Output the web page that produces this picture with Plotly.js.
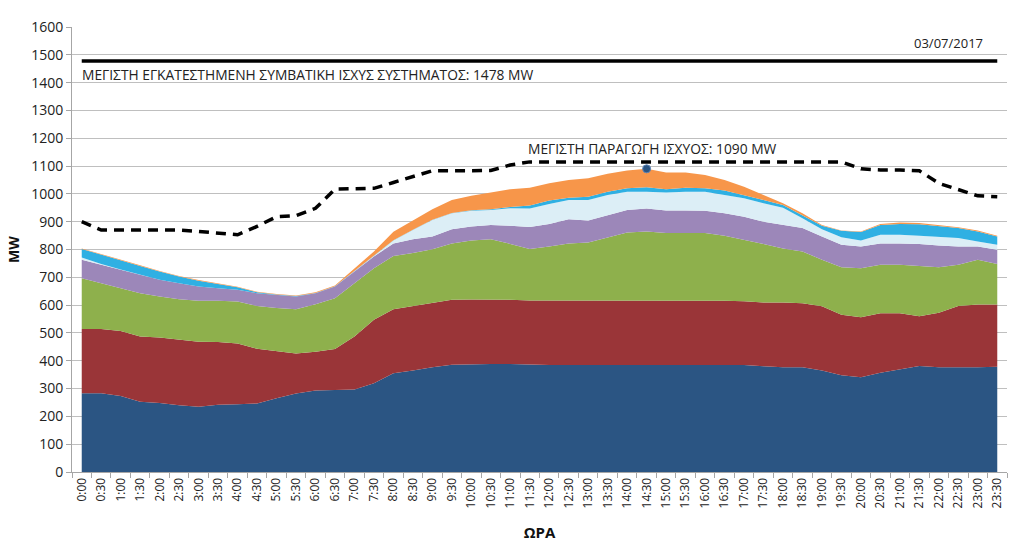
<!DOCTYPE html>
<html>
<head>
<meta charset="utf-8">
<script src="https://cdn.plot.ly/plotly-3.0.1.min.js"></script>
<style>html,body{margin:0;padding:0;background:#fff}#chart{width:1024px;height:550px}</style>
</head>
<body>
<div id="chart"></div>
<script>
const times = ["0:00","0:30","1:00","1:30","2:00","2:30","3:00","3:30","4:00","4:30","5:00","5:30","6:00","6:30","7:00","7:30","8:00","8:30","9:00","9:30","10:00","10:30","11:00","11:30","12:00","12:30","13:00","13:30","14:00","14:30","15:00","15:30","16:00","16:30","17:00","17:30","18:00","18:30","19:00","19:30","20:00","20:30","21:00","21:30","22:00","22:30","23:00","23:30"];

const seriesBlue   = [283,283,273,253,248,240,235,242,244,246,265,282,293,295,297,319,355,365,377,386,388,388,388,386,385,385,385,385,386,387,387,386,386,386,385,380,377,377,365,348,341,357,369,381,377,376,377,378];
const seriesRed    = [231,231,234,234,236,236,233,225,218,197,169,144,139,147,190,228,230,232,232,233,232,232,231,231,232,232,232,232,231,230,230,231,231,230,229,229,232,230,231,217,215,214,202,179,196,221,225,224];
const seriesGreen  = [183,165,154,156,147,145,148,149,151,154,156,159,171,183,192,186,192,190,192,203,212,217,201,185,194,205,208,227,244,248,242,242,242,233,221,211,195,186,167,171,177,174,174,181,163,148,161,146];
const seriesPurple = [66,66,66,66,60,58,51,45,42,46,46,46,40,42,42,42,45,50,46,51,51,51,65,79,81,87,79,80,81,82,81,81,80,81,83,80,84,84,84,81,78,77,77,79,78,66,48,51];
const seriesLight  = [8,3,1,0,0,0,0,0,0,0,0,0,0,0,1,3,10,33,59,57,56,54,63,66,72,69,74,72,66,61,65,68,69,66,66,66,62,35,26,27,21,31,31,29,30,30,18,18];
const seriesCyan   = [31,33,32,32,30,24,21,15,9,3,2,2,1,1,1,1,1,1,1,1,2,3,5,11,12,8,12,12,12,16,12,14,12,16,12,12,10,12,12,23,31,35,39,42,41,36,36,30];
const seriesOrange = [2,2,2,2,2,2,2,2,2,2,2,2,2,3,8,14,31,35,38,47,52,60,64,64,62,64,66,64,64,66,60,55,48,38,30,18,6,6,3,1,2,4,5,4,3,3,3,2];

const availableCapacity = [900,870,870,870,870,870,865,859,853,883,918,922,948,1017,1017,1020,1041,1062,1083,1083,1083,1084,1104,1115,1115,1115,1115,1115,1115,1115,1115,1115,1115,1115,1115,1115,1115,1115,1115,1115,1090,1086,1086,1083,1038,1014,993,990];

const installedCapacity = 1478;
const peakTime = "14:30";
const peakValue = 1090;
const dateLabel = "03/07/2017";
const installedLabel = "ΜΕΓΙΣΤΗ ΕΓΚΑΤΕΣΤΗΜΕΝΗ ΣΥΜΒΑΤΙΚΗ ΙΣΧΥΣ ΣΥΣΤΗΜΑΤΟΣ: 1478 MW";
const peakLabel = "ΜΕΓΙΣΤΗ ΠΑΡΑΓΩΓΗ ΙΣΧΥΟΣ: 1090 MW";

const stacks = [
  {y: seriesBlue,   color: "#2B5583"},
  {y: seriesRed,    color: "#9A3538"},
  {y: seriesGreen,  color: "#8EB04C"},
  {y: seriesPurple, color: "#9C87B9"},
  {y: seriesLight,  color: "#DCEEF6"},
  {y: seriesCyan,   color: "#2FB0E3"},
  {y: seriesOrange, color: "#F7964A"}
];

const traces = stacks.map(s => ({
  type: "scatter", mode: "lines", x: times, y: s.y,
  stackgroup: "gen", line: {width: 0, color: s.color},
  fillcolor: s.color, hoverinfo: "x+y"
}));

traces.push({
  type: "scatter", mode: "lines", x: times, y: availableCapacity,
  line: {color: "#000", width: 3.5, dash: "10px,7px"}
});
traces.push({
  type: "scatter", mode: "lines", x: times, y: times.map(() => installedCapacity),
  line: {color: "#000", width: 3.5}
});
traces.push({
  type: "scatter", mode: "markers", x: [peakTime], y: [peakValue],
  marker: {size: 8, color: "#2B5583", line: {color: "#5E84B6", width: 1}}
});

const fontFam = "'Open Sans', 'Noto Sans', sans-serif";

const layout = {
  width: 1024, height: 550,
  margin: {l: 72, r: 17, t: 27, b: 78},
  paper_bgcolor: "#fff", plot_bgcolor: "#fff",
  showlegend: false,
  font: {family: fontFam, color: "#222", size: 13},
  xaxis: {
    type: "category", range: [-0.5, 47.5],
    tickangle: -90, tickfont: {size: 12, color: "#222"},
    ticks: "outside", ticklen: 5, tickcolor: "#A6A6A6", tickson: "boundaries",
    showgrid: false, showline: true, linecolor: "#A6A6A6", linewidth: 1,
    zeroline: false,
    title: {text: "<b>ΩΡΑ</b>", font: {size: 15, color: "#111"}, standoff: 20}
  },
  yaxis: {
    range: [0, 1600], dtick: 100, tick0: 0,
    tickfont: {size: 14, color: "#222"},
    ticks: "outside", ticklen: 5, tickcolor: "#A6A6A6",
    showgrid: true, gridcolor: "#BFBFBF", gridwidth: 1,
    showline: true, linecolor: "#A6A6A6", linewidth: 1, zeroline: false,
    title: {text: "<b>MW</b>", font: {size: 14, color: "#111"}, standoff: 8}
  },
  annotations: [
    {x: times[0], y: installedCapacity, xref: "x", yref: "y", text: installedLabel,
     showarrow: false, xanchor: "left", yanchor: "top", yshift: -2, xshift: -2,
     font: {size: 13.8, color: "#222"}},
    {x: peakTime, y: peakValue, xref: "x", yref: "y", text: peakLabel,
     showarrow: false, xanchor: "center", yanchor: "bottom", yshift: 9, xshift: 6,
     font: {size: 13.8, color: "#222"}},
    {x: times[times.length - 1], y: installedCapacity, xref: "x", yref: "y", text: dateLabel,
     showarrow: false, xanchor: "right", yanchor: "bottom", yshift: 7, xshift: -12,
     font: {size: 13, color: "#222"}}
  ]
};

Plotly.newPlot("chart", traces, layout, {displayModeBar: false, staticPlot: true});
</script>
</body>
</html>
